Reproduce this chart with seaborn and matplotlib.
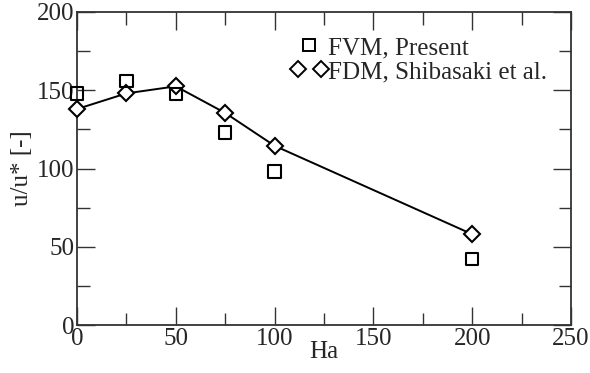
import matplotlib
matplotlib.use("Agg")
import matplotlib.pyplot as plt
from matplotlib.lines import Line2D
from matplotlib.legend_handler import HandlerLine2D
from matplotlib.ticker import MultipleLocator
import seaborn as sns
import pandas as pd

sns.set_theme(style="ticks")
plt.rcParams["font.family"] = ["Liberation Serif", "DejaVu Serif"]

ha = [0, 25, 50, 75, 100, 200]
fvm_present = [148, 156, 147.5, 123, 98, 42]
fdm_shibasaki = [138, 148, 152.5, 135.5, 114.5, 58]

df = pd.DataFrame({"Ha": ha, "FVM": fvm_present, "FDM": fdm_shibasaki})

fig = plt.figure(figsize=(5.9, 3.73), dpi=100)
ax = fig.add_axes([77 / 590, 1 - 325 / 373, (571 - 77) / 590, (325 - 12) / 373])

sns.lineplot(data=df, x="Ha", y="FDM", ax=ax, color="black", linewidth=1.4,
             marker="D", markersize=8.5, markerfacecolor="white",
             markeredgecolor="black", markeredgewidth=1.5, zorder=3,
             clip_on=False)
sns.scatterplot(data=df, x="Ha", y="FVM", ax=ax, marker="s", s=80,
                facecolor="none", edgecolor="black", linewidth=1.5, zorder=4,
                clip_on=False)

ax.set_xlim(0, 250)
ax.set_ylim(0, 200)
ax.xaxis.set_major_locator(MultipleLocator(50))
ax.xaxis.set_minor_locator(MultipleLocator(25))
ax.yaxis.set_major_locator(MultipleLocator(50))
ax.yaxis.set_minor_locator(MultipleLocator(25))
ax.tick_params(which="both", direction="in", top=True, right=True,
               color="#333333", width=1.0, labelsize=18, pad=2)
ax.tick_params(which="major", length=13)
ax.tick_params(which="minor", length=9)
for sp in ax.spines.values():
    sp.set_color("#333333")
    sp.set_linewidth(1.3)

ax.set_xlabel("Ha", fontsize=18, labelpad=-6)
ax.set_ylabel("u/u* [-]", fontsize=18, labelpad=3)

sq = Line2D([], [], linestyle="none", marker="s", markersize=8.5,
            markerfacecolor="white", markeredgecolor="black", markeredgewidth=1.4)
dm = Line2D([], [], linestyle="none", marker="D", markersize=8.5,
            markerfacecolor="white", markeredgecolor="black", markeredgewidth=1.4)
ax.legend([sq, dm], ["FVM, Present", "FDM, Shibasaki et al."],
          handler_map={sq: HandlerLine2D(numpoints=1),
                       dm: HandlerLine2D(numpoints=2, marker_pad=0.0)},
          loc="upper right", bbox_to_anchor=(0.977, 0.961), frameon=False,
          fontsize=18, handlelength=0.9, handletextpad=0.3, labelspacing=0.05,
          borderpad=0.0)

fig.savefig("out.png", dpi=100)
